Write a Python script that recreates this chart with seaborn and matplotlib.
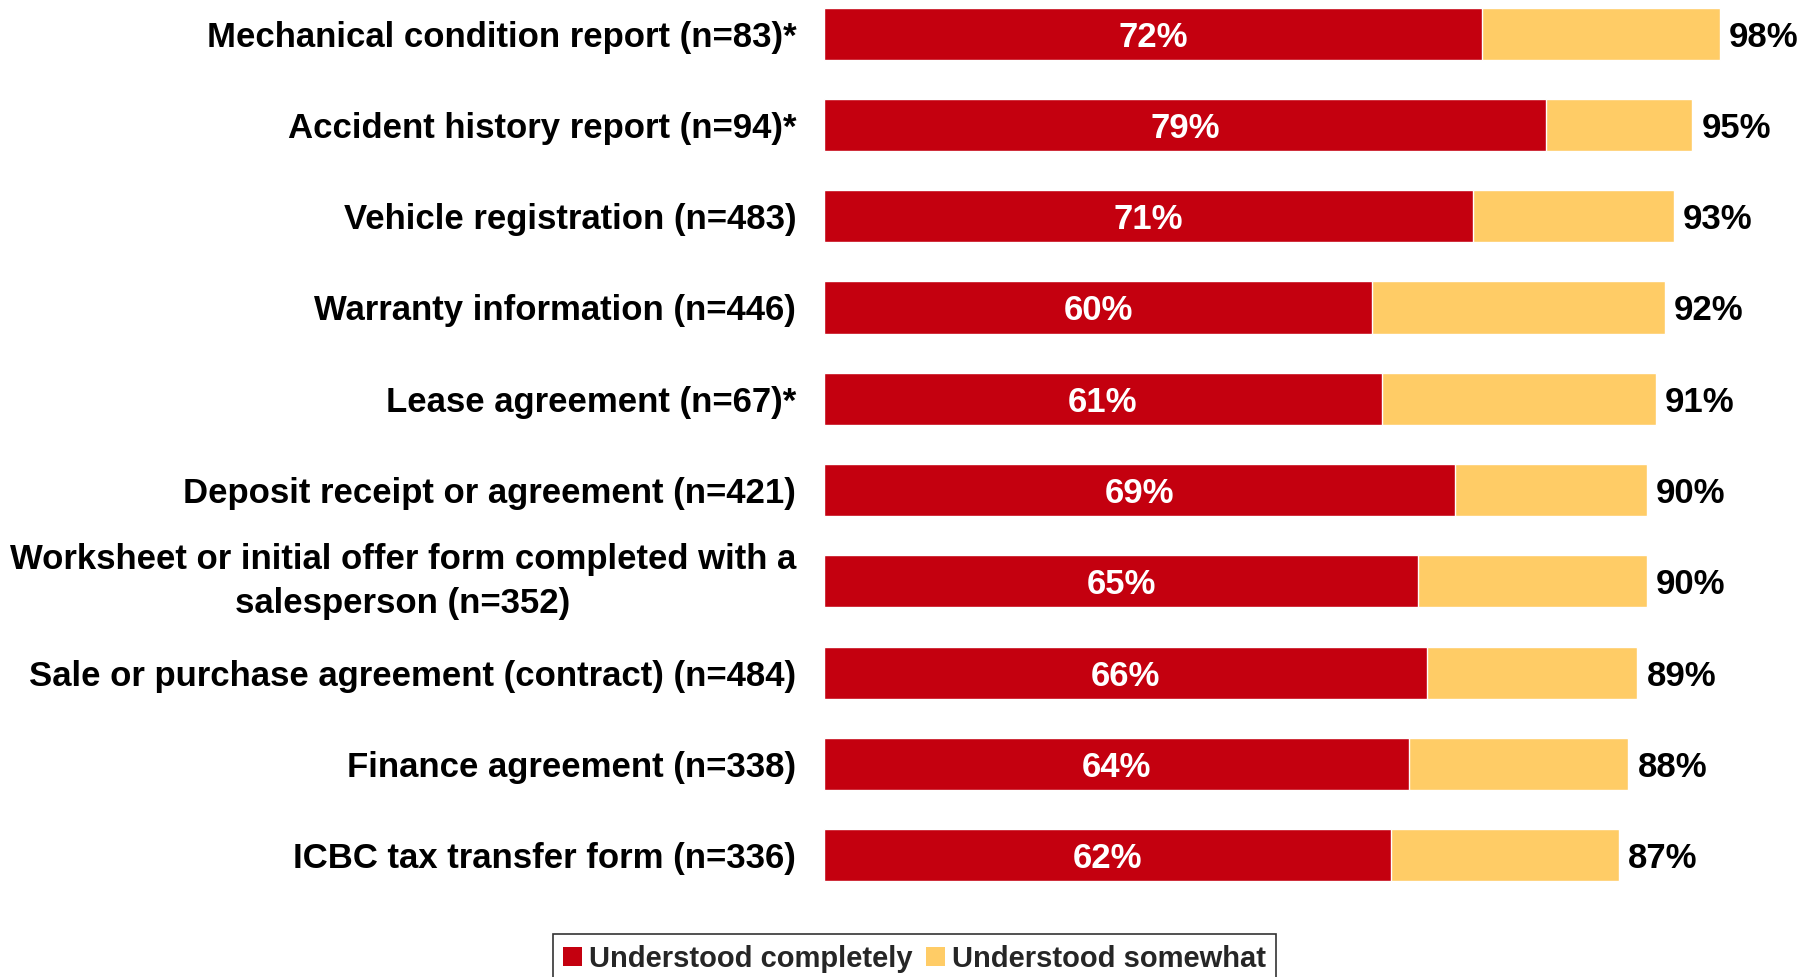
import matplotlib
matplotlib.use("Agg")
import matplotlib.pyplot as plt
import seaborn as sns
import pandas as pd
from matplotlib.patches import Patch

categories = [
    "Mechanical condition report (n=83)*",
    "Accident history report (n=94)*",
    "Vehicle registration (n=483)",
    "Warranty information (n=446)",
    "Lease agreement (n=67)*",
    "Deposit receipt or agreement (n=421)",
    "Worksheet or initial offer form completed with a\nsalesperson (n=352)",
    "Sale or purchase agreement (contract) (n=484)",
    "Finance agreement (n=338)",
    "ICBC tax transfer form (n=336)",
]
understood_completely = [72, 79, 71, 60, 61, 69, 65, 66, 64, 62]
understood_total = [98, 95, 93, 92, 91, 90, 90, 89, 88, 87]
series_names = ["Understood completely", "Understood somewhat"]

RED = "#C4000F"
YELLOW = "#FFCC66"

sns.set_theme(style="white")
plt.rcParams["font.family"] = ["Liberation Sans", "DejaVu Sans"]
plt.rcParams["font.weight"] = "bold"

df = pd.DataFrame({"cat": categories, "complete": understood_completely, "total": understood_total})

W, H = 1818, 977
fig = plt.figure(figsize=(W / 100, H / 100), dpi=100)
ax = fig.add_axes([824 / W, 1 - 900 / H, 914 / W, 900 / H])

sns.barplot(data=df, x="total", y="cat", orient="h", color=YELLOW, width=0.57,
            saturation=1, ax=ax)
sns.barplot(data=df, x="complete", y="cat", orient="h", color=RED, width=0.57,
            saturation=1, ax=ax)

ax.set_xlim(0, 100)
ax.set_ylim(9.49, -0.368)
ax.set_xlabel("")
ax.set_ylabel("")
ax.set_xticks([])
for s in ax.spines.values():
    s.set_visible(False)
ax.tick_params(axis="y", length=0, pad=20, labelsize=25)
for lbl in ax.get_yticklabels():
    lbl.set_fontweight("bold")
    lbl.set_multialignment("center")
    lbl.set_linespacing(1.45)
    lbl.set_color("black")
    if "\n" in lbl.get_text():
        lbl.set_verticalalignment("center")

for i, (c, t) in enumerate(zip(understood_completely, understood_total)):
    ax.text(c / 2, i, f"{c}%", ha="center", va="center_baseline", color="white",
            fontsize=25, fontweight="bold")
    ax.text(t + 1.0, i, f"{t}%", ha="left", va="center_baseline", color="black",
            fontsize=25, fontweight="bold")

handles = [Patch(facecolor=RED, edgecolor="none"), Patch(facecolor=YELLOW, edgecolor="none")]
leg = fig.legend(handles, series_names, loc="lower center", bbox_to_anchor=(914.5 / W, -0.006),
                 ncol=2, frameon=True, fancybox=False, edgecolor="black",
                 prop={"size": 21, "weight": "bold"}, handlelength=0.65, handleheight=0.65,
                 handletextpad=0.25, columnspacing=0.45, borderpad=0.35, borderaxespad=0)
leg.get_frame().set_linewidth(1.2)

fig.savefig("out.png", dpi=100)
